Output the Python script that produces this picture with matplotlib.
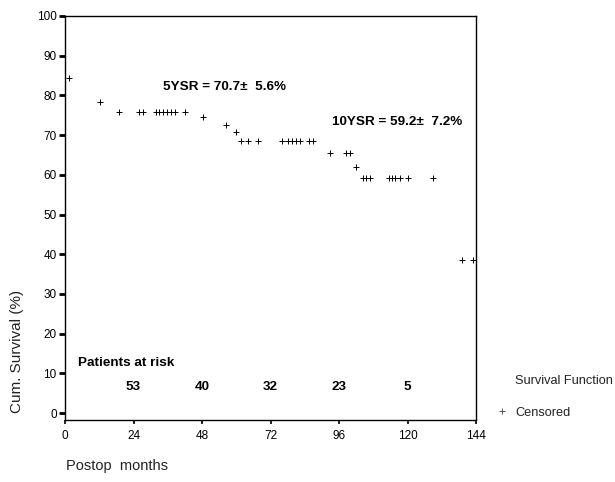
import matplotlib
matplotlib.use("Agg")
import matplotlib.pyplot as plt

plt.rcParams['font.family'] = ['Liberation Sans', 'DejaVu Sans']

# Censored observations: time (months) and cumulative survival (%) at that time
censor_months = [1.5, 12.3, 19, 26, 27.5, 32, 33, 34.5, 35.8, 37, 38.5, 42, 48.5, 56.5,
                 60, 61.8, 64.2, 67.6, 76, 78.2, 79.5, 81, 82.5, 85.5, 87,
                 93, 98.5, 99.8, 102, 104.5, 105.6, 106.8, 113.5, 114.6, 115.7,
                 117.2, 120.2, 129, 139, 143]
censor_surv = [84.5, 78.3, 75.8, 75.8, 75.8, 75.8, 75.8, 75.8, 75.8, 75.8, 75.8, 75.8, 74.5, 72.5,
               70.7, 68.5, 68.5, 68.5, 68.5, 68.5, 68.5, 68.5, 68.5, 68.5, 68.5,
               65.5, 65.5, 65.5, 62.0, 59.2, 59.2, 59.2, 59.2, 59.2, 59.2,
               59.2, 59.2, 59.2, 38.5, 38.5]

# Patients at risk per 24-month interval
risk_months = [24, 48, 72, 96, 120]
risk_counts = [53, 40, 32, 23, 5]

x_ticks = [0, 24, 48, 72, 96, 120, 144]
y_ticks = [0, 10, 20, 30, 40, 50, 60, 70, 80, 90, 100]

fig = plt.figure(figsize=(6.15, 4.82), dpi=100)
ax = fig.add_axes([65 / 615, 1 - 420 / 482, (476 - 65) / 615, (420 - 16) / 482])

ax.plot(censor_months, censor_surv, linestyle='none', marker='+', markersize=4.5,
        markeredgewidth=0.7, color='black')

ax.set_xlim(0, 144)
ax.set_ylim(-1.76, 100)
ax.set_xticks(x_ticks)
ax.set_yticks(y_ticks)
ax.tick_params(axis='both', labelsize=8.5, colors='black', direction='out')
ax.tick_params(axis='y', length=4, width=2, pad=2)
ax.tick_params(axis='x', length=3, width=1.2, pad=4)
for s in ax.spines.values():
    s.set_linewidth(1.0)
    s.set_color('black')

ax.text(34.5, 82.2, '5YSR = 70.7\u00b1  5.6%', fontsize=9.7, fontweight='bold',
        ha='left', va='center')
ax.text(93.5, 73.2, '10YSR = 59.2\u00b1  7.2%', fontsize=9.7, fontweight='bold',
        ha='left', va='center')
ax.text(4.5, 12.6, 'Patients at risk', fontsize=9.7, fontweight='bold',
        ha='left', va='center')
for m, n in zip(risk_months, risk_counts):
    ax.text(m, 6.6, str(n), fontsize=9.7, fontweight='bold', ha='center', va='center')

fig.text(17 / 615, 1 - 351 / 482, 'Cum. Survival (%)', rotation=90, fontsize=11,
         ha='center', va='center', color='#222222')
fig.text(66 / 615, 1 - 466 / 482, 'Postop  months', fontsize=10.5, ha='left',
         va='center', color='#222222')

# legend entries
fig.text(515 / 615, 1 - 381 / 482, 'Survival Function', fontsize=9.2, ha='left',
         va='center', color='#222222')
fig.text(515 / 615, 1 - 413 / 482, 'Censored', fontsize=9.2, ha='left', va='center',
         color='#222222')
fig.lines.append(plt.Line2D([502 / 615], [1 - 411 / 482], transform=fig.transFigure,
                            marker='+', markersize=4, markeredgewidth=0.7,
                            color='#555555', linestyle='none'))

fig.savefig('out.png', dpi=100)
